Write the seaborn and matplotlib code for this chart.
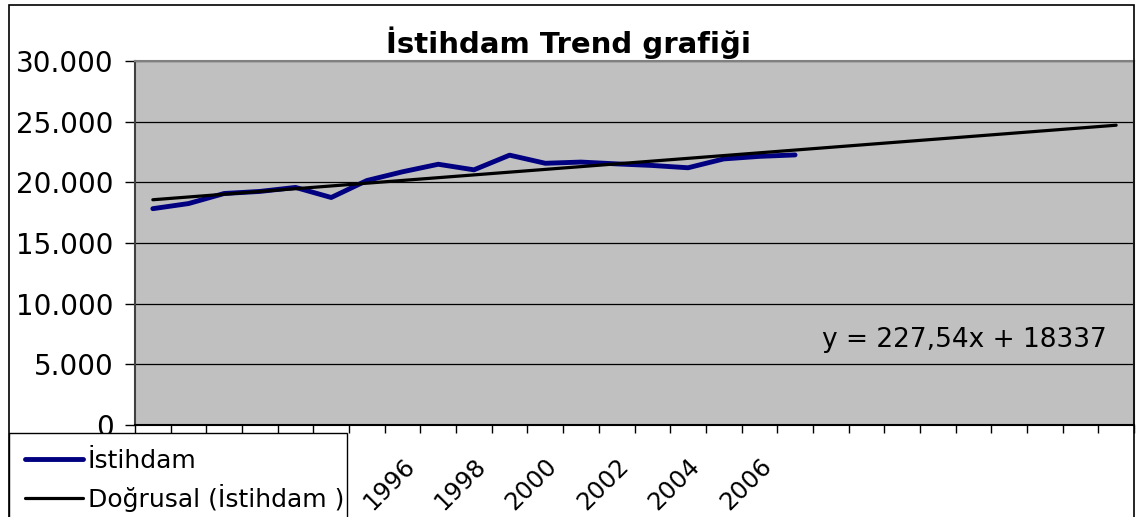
import numpy as np
import pandas as pd
import matplotlib
matplotlib.use("Agg")
import matplotlib.pyplot as plt
import matplotlib.transforms as mtransforms
from matplotlib.patches import Rectangle
import seaborn as sns

# Veriler
yillar = list(range(1988, 2007))
istihdam = [17830, 18250, 19080, 19250, 19580, 18750, 20150, 20870, 21490, 21030,
            22240, 21570, 21670, 21520, 21390, 21200, 21930, 22140, 22260]
egim = 227.54
sabit = 18337
tahmin_donem = 9  # trend çizgisinin ileri uzatıldığı dönem sayısı

y_tikler = [0, 5000, 10000, 15000, 20000, 25000, 30000]
y_etiketler = ["0", "5.000", "10.000", "15.000", "20.000", "25.000", "30.000"]

df = pd.DataFrame({"x": np.arange(1, len(yillar) + 1), "istihdam": istihdam})
trend_x = np.arange(1, len(yillar) + tahmin_donem + 1)
trend = pd.DataFrame({"x": trend_x, "y": sabit + egim * trend_x})

sns.set_style("white")
plt.rcParams["font.family"] = ["DejaVu Sans"]
plt.rcParams["text.color"] = "black"
plt.rcParams["xtick.color"] = "black"
plt.rcParams["ytick.color"] = "black"
plt.rcParams["axes.labelcolor"] = "black"

fig = plt.figure(figsize=(11.36, 5.17), dpi=100)
ax = fig.add_axes([135 / 1136, 1 - 425 / 517, 999 / 1136, 364 / 517])
ax.set_facecolor("#c0c0c0")

# Çizgiler
sns.lineplot(data=df, x="x", y="istihdam", ax=ax, color="#000080", linewidth=3.5,
             label="İstihdam", legend=False, zorder=3)
sns.lineplot(data=trend, x="x", y="y", ax=ax, color="black", linewidth=2.3,
             label="Doğrusal (İstihdam )", legend=False, zorder=4)

ax.set_xlim(0.5, len(trend_x) + 0.5)
ax.set_ylim(0, 30000)
ax.set_xlabel("")
ax.set_ylabel("")

# Y ekseni
ax.set_yticks(y_tikler)
ax.set_yticklabels(y_etiketler, fontsize=20)
ax.tick_params(axis="y", direction="out", length=7.5, width=1, color="black", pad=8, left=True)
ax.yaxis.grid(True, color="black", linewidth=0.9)
ax.set_axisbelow(True)

# X ekseni: sınırlarda tik çizgileri, etiketler iki yılda bir
ax.set_xticks(np.arange(0.5, len(trend_x) + 1, 1))
ax.set_xticklabels([])
ax.tick_params(axis="x", which="major", direction="out", length=6, width=1, color="black", bottom=True)
etiket_konum = df["x"].values[::2]
ax.set_xticks(etiket_konum, minor=True)
ax.set_xticklabels([str(y) for y in yillar[::2]], minor=True, fontsize=17.5, rotation=45,
                   ha="right", va="top")
ax.tick_params(axis="x", which="minor", length=0, pad=21)
kaydir = mtransforms.ScaledTranslation(-0.19, 0, fig.dpi_scale_trans)
for lbl in ax.get_xticklabels(minor=True):
    lbl.set_transform(lbl.get_transform() + kaydir)

for s in ["top", "right"]:
    ax.spines[s].set_color("#808080")
    ax.spines[s].set_linewidth(1.5)
ax.spines["left"].set_color("#404040")
ax.spines["left"].set_linewidth(1.5)
ax.spines["bottom"].set_color("black")
ax.spines["bottom"].set_linewidth(1.5)

# Trend denklemi
ax.text(0.688, 0.234, "y = 227,54x + 18337", transform=ax.transAxes, fontsize=19,
        ha="left", va="center", color="black")

# Başlık
fig.text(0.5, 1 - 43 / 517, "İstihdam Trend grafiği", fontsize=21, fontweight="bold",
         ha="center", va="center", color="black")

# Grafik alanı çerçevesi
fig.patches.append(Rectangle((9 / 1136, -0.1), (1134 - 9) / 1136, 1.1 - 5 / 517,
                             transform=fig.transFigure, fill=False, edgecolor="black",
                             linewidth=1.2, zorder=10))

# Gösterge
handles, labels = ax.get_legend_handles_labels()
leg = fig.legend(handles, labels, loc="upper left",
                 bbox_to_anchor=(9 / 1136, 1 - 438 / 517, (347 - 9) / 1136, 0.01),
                 mode="expand", borderaxespad=0, fontsize=18, frameon=True, fancybox=False,
                 edgecolor="black", framealpha=1, handlelength=2.3, handletextpad=0.2,
                 labelspacing=0.42, borderpad=0.65)
for t in leg.get_texts():
    t.set_color("black")

fig.savefig("out.png", dpi=100)
